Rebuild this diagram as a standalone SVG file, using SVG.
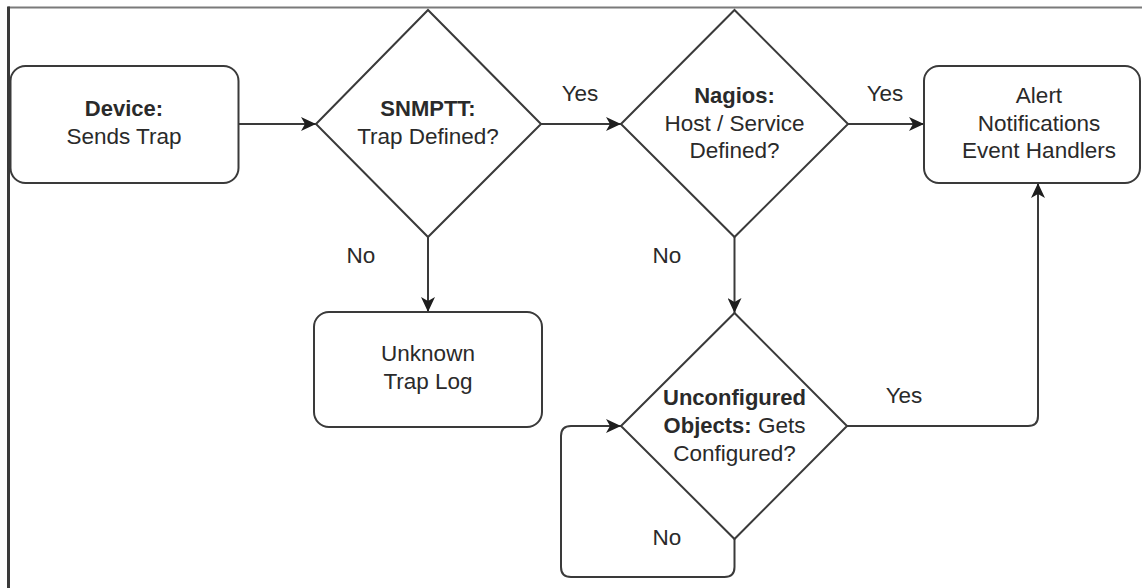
<svg xmlns="http://www.w3.org/2000/svg" width="1142" height="588" viewBox="0 0 1142 588">
  <style>
    .shape { fill: #ffffff; stroke: #3a3a3a; stroke-width: 2; }
    .edge { fill: none; stroke: #3a3a3a; stroke-width: 2; }
    text { font-family: "Liberation Sans", Arial, Helvetica, sans-serif; font-size: 22.5px; fill: #2a2a2a; text-anchor: middle; }
    .b { font-weight: bold; font-size: 22px; }
  </style>
  <defs>
    <marker id="arrow" markerUnits="userSpaceOnUse" markerWidth="16" markerHeight="14" refX="15" refY="7" orient="auto">
      <path d="M0,0 L15,7 L0,14 L4,7 z" fill="#1e1e1e"/>
    </marker>
  </defs>
  <rect width="1142" height="588" fill="#ffffff"/>
  <g id="frame">
    <line x1="8" y1="7.5" x2="1142" y2="7.5" stroke="#7a7a7a" stroke-width="2"/>
    <line x1="8.5" y1="6.5" x2="8.5" y2="588" stroke="#3a3a3a" stroke-width="3"/>
  </g>
  <g id="connectors">
    <path class="edge" d="M238,124 L316,124" marker-end="url(#arrow)"/>
    <path class="edge" d="M541,124 L621,124" marker-end="url(#arrow)"/>
    <path class="edge" d="M848,124 L924,124" marker-end="url(#arrow)"/>
    <path class="edge" d="M428,237 L428,312" marker-end="url(#arrow)"/>
    <path class="edge" d="M734.5,237 L734.5,313" marker-end="url(#arrow)"/>
    <path class="edge" d="M847,426 L1028,426 Q1038,426 1038,416 L1038,183" marker-end="url(#arrow)"/>
    <path class="edge" d="M734.5,539 L734.5,567 Q734.5,577 724.5,577 L571,577 Q561,577 561,567 L561,436 Q561,426 571,426 L621,426" marker-end="url(#arrow)"/>
    <text x="580" y="101">Yes</text>
    <text x="885" y="101">Yes</text>
    <text x="361" y="263">No</text>
    <text x="667" y="263">No</text>
    <text x="904" y="403">Yes</text>
    <text x="667" y="545">No</text>
  </g>
  <g id="device">
    <rect class="shape" x="10.5" y="66" width="228" height="117" rx="15" ry="15"/>
    <text x="124" y="116" class="b">Device:</text>
    <text x="124" y="144">Sends Trap</text>
  </g>
  <g id="snmptt">
    <polygon class="shape" points="316,124 428,10 541,124 428,237"/>
    <text x="428" y="116" class="b">SNMPTT:</text>
    <text x="428" y="144">Trap Defined?</text>
  </g>
  <g id="nagios">
    <polygon class="shape" points="621,124 734.5,10 848,124 734.5,237"/>
    <text x="734.5" y="103" class="b">Nagios:</text>
    <text x="734.5" y="131">Host / Service</text>
    <text x="734.5" y="158">Defined?</text>
  </g>
  <g id="alert">
    <rect class="shape" x="924" y="66" width="216" height="117" rx="15" ry="15"/>
    <text x="1039" y="103">Alert</text>
    <text x="1039" y="131">Notifications</text>
    <text x="1039" y="158">Event Handlers</text>
  </g>
  <g id="unknown">
    <rect class="shape" x="314" y="312" width="228" height="115" rx="15" ry="15"/>
    <text x="428" y="361">Unknown</text>
    <text x="428" y="389">Trap Log</text>
  </g>
  <g id="unconfigured">
    <polygon class="shape" points="621,426 734.5,313 847,426 734.5,539"/>
    <text x="734.5" y="405" class="b">Unconfigured</text>
    <text x="734.5" y="433"><tspan class="b">Objects:</tspan> Gets</text>
    <text x="734.5" y="461">Configured?</text>
  </g>
</svg>
